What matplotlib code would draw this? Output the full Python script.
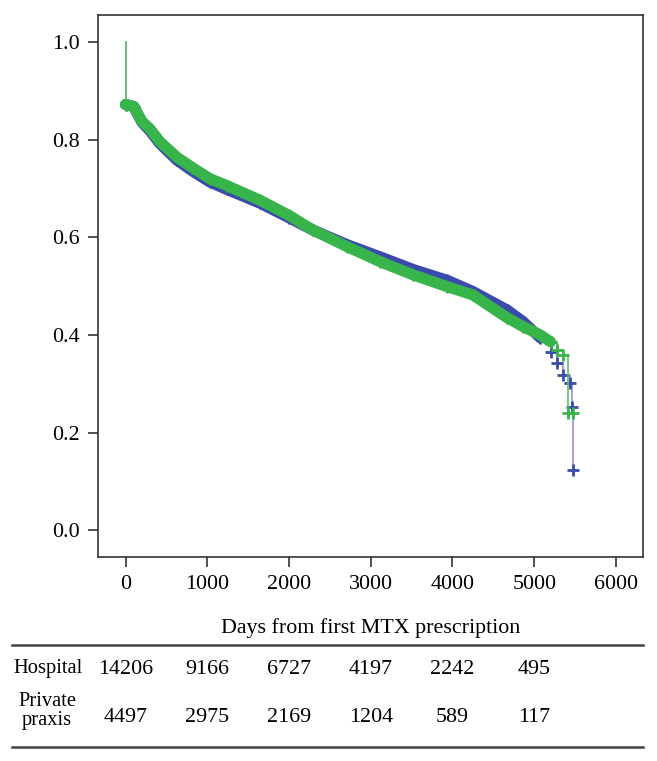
import matplotlib
matplotlib.use("Agg")
import matplotlib.pyplot as plt
import matplotlib.transforms as mtransforms
from matplotlib.lines import Line2D

# Kaplan-Meier estimates (days, survival)
hosp_days = [0, 0, 100, 200, 300, 420, 630, 825, 1035, 1240, 1645, 2000, 2290,
             2710, 3115, 3520, 3935, 4250, 4670, 4865, 5075, 5200, 5280, 5355,
             5440, 5460, 5476]
hosp_surv = [1.0, 0.872, 0.868, 0.836, 0.818, 0.792, 0.758, 0.735, 0.713, 0.698,
             0.670, 0.640, 0.615, 0.585, 0.560, 0.534, 0.512, 0.489, 0.451, 0.427,
             0.394, 0.366, 0.342, 0.318, 0.301, 0.253, 0.124]

priv_days = [0, 0, 100, 200, 300, 420, 630, 825, 1035, 1240, 1645, 2000, 2290,
             2710, 3115, 3520, 3935, 4250, 4670, 4865, 5075, 5200, 5280, 5355,
             5415, 5480]
priv_surv = [1.0, 0.872, 0.868, 0.838, 0.822, 0.796, 0.764, 0.742, 0.720, 0.706,
             0.676, 0.645, 0.615, 0.581, 0.550, 0.523, 0.499, 0.482, 0.435, 0.417,
             0.400, 0.386, 0.369, 0.359, 0.240, 0.240]

# numbers at risk
risk_days = [0, 1000, 2000, 3000, 4000, 5000]
hosp_risk = [14206, 9166, 6727, 4197, 2242, 495]
priv_risk = [4497, 2975, 2169, 1204, 589, 117]
row_labels = ["Hospital", "Private\npraxis"]

xticks = [0, 1000, 2000, 3000, 4000, 5000, 6000]
yticks = [0.0, 0.2, 0.4, 0.6, 0.8, 1.0]

blue = "#3a4bab"
blue_light = "#8d98d2"
green = "#38b54a"
green_light = "#5cbf6c"

plt.rcParams["font.family"] = ["Liberation Serif", "DejaVu Serif"]
FS = 15.8

fig = plt.figure(figsize=(6.57, 7.61), dpi=100)
ax = fig.add_axes([0.149, 0.268, 0.830, 0.712])


def draw_km(days, surv, col, col_light, band_end, z):
    # thin step line: drop at day 0 and the sparse tail
    ax.plot(days[:2], surv[:2], color=col_light, lw=1.2, zorder=z)
    ax.step(days[band_end - 1:], surv[band_end - 1:], where="post",
            color=col_light, lw=1.2, zorder=z)
    # dense censoring makes a thick band
    ax.plot(days[1:band_end], surv[1:band_end], color=col, lw=8,
            solid_capstyle="round", solid_joinstyle="round", zorder=z + 0.1)
    ax.plot(days[1:], surv[1:], "+", color=col, ms=9, mew=2.0, zorder=z + 0.2)


draw_km(hosp_days, hosp_surv, blue, blue_light, 21, 3)
draw_km(priv_days, priv_surv, green, green_light, 22, 4)

ax.set_xlim(-338, 6333)
ax.set_ylim(-0.055, 1.055)
ax.set_xticks(xticks)
ax.set_yticks(yticks)
ax.set_xticklabels([str(x) for x in xticks])
ax.set_yticklabels([f"{y:.1f}" for y in yticks])
ax.tick_params(labelsize=FS, length=7, width=1.2, pad=6, color="#333333")
for sp in ax.spines.values():
    sp.set_linewidth(1.2)
    sp.set_color("#333333")

# x label placed in figure coordinates
trans = mtransforms.blended_transform_factory(ax.transData, fig.transFigure)
fig.text(0.5 * (0.149 + 0.979), 1 - 628 / 761, "Days from first MTX prescription",
         ha="center", va="center", fontsize=FS)

# risk table
for yy in (645, 747):
    fig.add_artist(Line2D([12 / 657, 643 / 657], [1 - yy / 761, 1 - yy / 761],
                          color="#444444", lw=1.8))
fig.text(13 / 657, 1 - 669 / 761, row_labels[0], ha="left", va="center",
         fontsize=FS - 1)
fig.text(47 / 657, 1 - 711 / 761, row_labels[1], ha="center", va="center",
         fontsize=FS - 1, linespacing=1.0)
for d, h, p in zip(risk_days, hosp_risk, priv_risk):
    ax.text(d, 1 - 669 / 761, str(h), transform=trans, ha="center", va="center",
            fontsize=FS)
    ax.text(d, 1 - 717 / 761, str(p), transform=trans, ha="center", va="center",
            fontsize=FS)

fig.savefig("out.png", dpi=100)
